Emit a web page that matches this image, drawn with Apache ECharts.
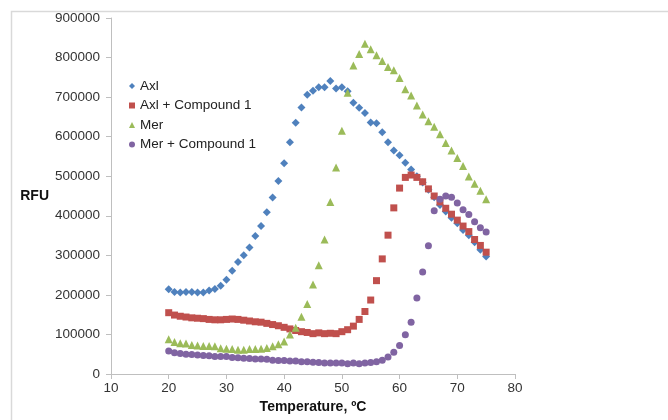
<!DOCTYPE html>
<html><head><meta charset="utf-8">
<script src="https://cdn.jsdelivr.net/npm/echarts@6/dist/echarts.min.js"></script>
<style>html,body{margin:0;padding:0;background:#fff}#c{width:668px;height:420px}</style>
</head><body><div id="c"></div>
<script>
var temps = [20,21,22,23,24,25,26,27,28,29,30,31,32,33,34,35,36,37,38,39,40,41,42,43,44,45,46,47,48,49,50,51,52,53,54,55,56,57,58,59,60,61,62,63,64,65,66,67,68,69,70,71,72,73,74,75];
var axl = [214,207,206,207,207,206,206,211,215,223,238,261,283,300,320,349,374,409,446,488,533,586,635,674,706,716,725,725,741,722,725,715,686,673,660,636,634,611,586,565,553,534,517,500,484,466,447,427,411,395,381,364,351,333,314,297];
var axlC = [155,149,146,144,142,141,140,138,137,137,138,139,138,136,134,132,131,128,125,122,118,114,110,107,105,102,104,102,103,102,107,112,121,138,158,187,236,291,351,420,470,497,503,497,486,468,450,435,419,404,389,374,360,340,325,308];
var mer = [88,81,78,77,73,72,71,71,70,65,64,63,61,61,63,63,64,66,70,75,82,100,117,145,177,226,275,340,435,522,615,711,780,809,835,821,806,791,776,768,748,720,704,679,656,639,625,606,584,565,546,526,499,481,463,442];
var merC = [58,54,52,50,49,48,47,46,44,44,44,42,41,40,39,38,38,37,35,34,34,33,33,31,31,30,29,28,28,28,28,26,28,26,28,29,31,35,43,55,72,99,131,192,258,324,413,442,450,447,432,415,403,385,370,359];
var seriesNames = ['Axl','Axl + Compound 1','Mer','Mer + Compound 1'];
var xTicks = [10,20,30,40,50,60,70,80];
var yTicks = [0,100000,200000,300000,400000,500000,600000,700000,800000,900000];

function pts(arr){ return temps.map(function(t,i){ return [t, arr[i]*1000]; }); }
var colors = ['#4F81BD','#C0504D','#9BBB59','#8064A2'];
var symbols = ['diamond','rect','triangle','circle'];
var sizes = [8,7,8,7];
var datas = [axl, axlC, mer, merC];

var chart = echarts.init(document.getElementById('c'));
chart.setOption({
  animation:false,
  textStyle:{fontFamily:'"Liberation Sans", Arial, sans-serif'},
  graphic:[{type:'rect', shape:{x:11.5,y:11.5,width:700,height:500}, style:{fill:null, stroke:'#d9d9d9', lineWidth:1.5}, silent:true}],
  grid:{left:111, right:153, top:18, bottom:46},
  legend:{
    orient:'vertical', left:124, top:74, itemWidth:6, itemHeight:6, itemGap:5.5, itemTextGap:3,
    textStyle:{fontSize:13.5, color:'#222'},
    data: seriesNames.map(function(n,i){ return {name:n, icon:symbols[i]}; })
  },
  xAxis:{
    type:'value', min:xTicks[0], max:xTicks[xTicks.length-1], interval:10,
    name:'Temperature, ºC', nameLocation:'middle', nameGap:24,
    nameTextStyle:{fontWeight:'bold', fontSize:14, color:'#111'},
    axisLine:{show:true, lineStyle:{color:'#bfbfbf'}},
    axisTick:{show:true, length:5, lineStyle:{color:'#bfbfbf'}},
    axisLabel:{fontSize:13.5, color:'#333', margin:7},
    splitLine:{show:false}
  },
  yAxis:{
    type:'value', min:yTicks[0], max:yTicks[yTicks.length-1], interval:100000,
    name:'RFU', nameLocation:'middle', nameGap:62, nameRotate:0,
    nameTextStyle:{fontWeight:'bold', fontSize:14, color:'#111'},
    axisLine:{show:true, lineStyle:{color:'#bfbfbf'}},
    axisTick:{show:true, length:5, lineStyle:{color:'#bfbfbf'}},
    axisLabel:{fontSize:13.5, color:'#333', margin:11, formatter:function(v){ return String(v); }},
    splitLine:{show:false}
  },
  series: seriesNames.map(function(n,i){
    return {name:n, type:'scatter', symbol:symbols[i], symbolSize:sizes[i],
      itemStyle:{color:colors[i], opacity:1}, data:pts(datas[i])};
  })
});
</script></body></html>
